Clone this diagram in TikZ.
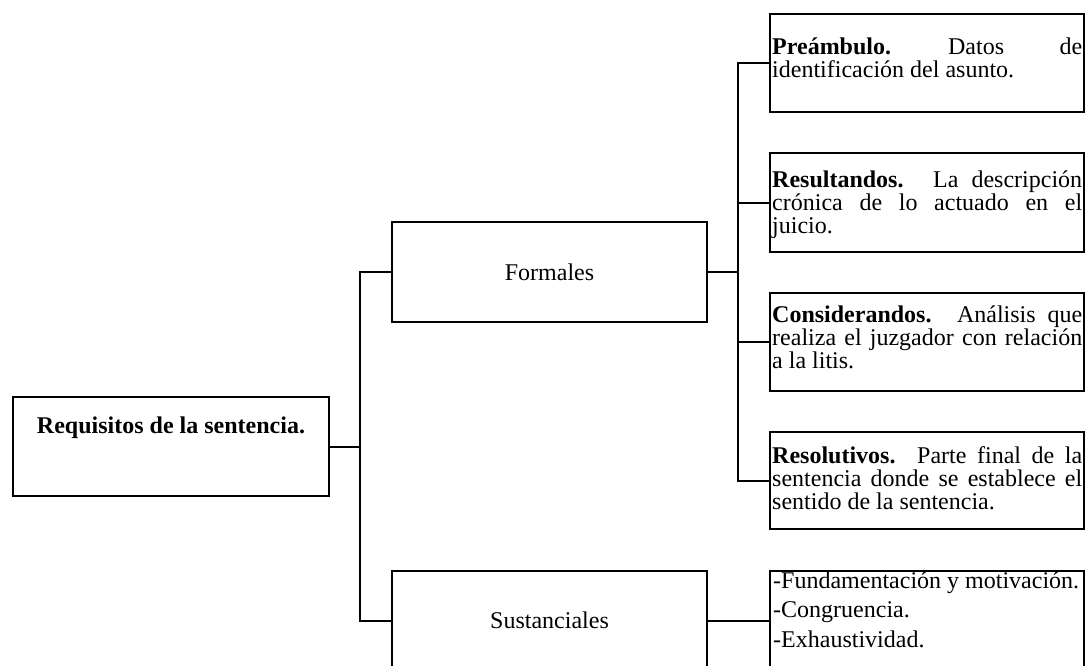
\documentclass[tikz,border=0pt]{standalone}
\usepackage{fontspec}
\setmainfont{Liberation Serif}
\tikzset{
  box/.style={draw, line width=2pt, inner sep=0pt, outer sep=0pt, anchor=north west},
  conn/.style={draw, line width=2pt, line join=miter},
  txt/.style={anchor=base west, inner sep=0pt, font=\fontsize{24}{23}\selectfont},
  midtxt/.style={font=\fontsize{24}{23}\selectfont},
}
\begin{document}
\begin{tikzpicture}[x=1pt,y=-1pt]
\clip (0,0) rectangle (1086,666);
% left column
\node[box, minimum width=316pt, minimum height=99pt] (root) at (13,397) {};
\node[anchor=base, inner sep=0pt, font=\fontsize{24}{23}\selectfont\bfseries] (roottxt) at (171,433) {Requisitos de la sentencia.};
% middle column
\node[box, midtxt, minimum width=315pt, minimum height=100pt] (formales) at (392,222) {Formales};
\node[box, midtxt, minimum width=315pt, minimum height=99pt] (sust) at (392,571) {Sustanciales};
% right column boxes
\node[box, minimum width=314pt, minimum height=98pt] (pre) at (770,14) {};
\node[box, minimum width=314pt, minimum height=99pt] (res) at (770,153) {};
\node[box, minimum width=314pt, minimum height=98pt] (con) at (770,293) {};
\node[box, minimum width=314pt, minimum height=97pt] (resol) at (770,432) {};
\node[box, minimum width=314pt, minimum height=99pt] (list) at (770,571) {};
% right column texts
\node[txt] (pretxt) at (772,55) {\parbox[t]{310pt}{\makebox[\linewidth][l]{\textbf{Preámbulo.}\hspace{57pt}Datos\hfill de}\\identificación del asunto.}};
\node[txt] (restxt) at (772,187) {\parbox[t]{310pt}{\makebox[\linewidth][s]{\textbf{Resultandos.} La descripción}\\\makebox[\linewidth][s]{crónica de lo actuado en el}\\juicio.}};
\node[txt] (contxt) at (772,322) {\parbox[t]{310pt}{\makebox[\linewidth][s]{\textbf{Considerandos.} Análisis que}\\\makebox[\linewidth][s]{realiza el juzgador con relación}\\a la litis.}};
\node[txt] (resoltxt) at (772,463) {\parbox[t]{310pt}{\makebox[\linewidth][s]{\textbf{Resolutivos.} Parte final de la}\\\makebox[\linewidth][s]{sentencia donde se establece el}\\sentido de la sentencia.}};
\node[txt, font=\fontsize{24}{29.5}\selectfont] (listtxt) at (773,588) {\parbox[t]{310pt}{-Fundamentación y motivación.\\-Congruencia.\\-Exhaustividad.}};
% junctions
\path (root.east) ++(31,0) coordinate (j1);
\path (formales.east) ++(31,0) coordinate (j2);
% connectors
\draw[conn] (root.east) -- (j1) |- (formales.west);
\draw[conn] (j1) |- (sust.west);
\draw[conn] (formales.east) -- (j2) |- (pre.west);
\draw[conn] (j2) |- (res.west);
\draw[conn] (j2) |- (con.west);
\draw[conn] (j2) |- (resol.west);
\draw[conn] (sust.east) -- (list.west);
\end{tikzpicture}
\end{document}
